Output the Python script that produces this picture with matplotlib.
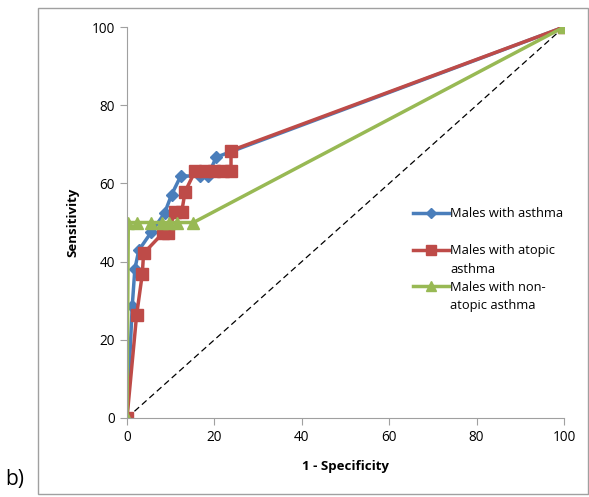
import matplotlib
matplotlib.use("Agg")
import matplotlib.pyplot as plt
from matplotlib.lines import Line2D
from matplotlib.patches import Rectangle

plt.rcParams["font.family"] = ["Open Sans", "DejaVu Sans"]

# ROC data (1 - specificity, sensitivity), in %
asthma_x = [0, 1.2, 1.8, 2.7, 5.6, 8.6, 10.2, 12.3, 16.6, 18.5, 20.4, 100]
asthma_y = [0, 28.6, 38.1, 42.9, 47.6, 52.4, 57.1, 61.9, 61.9, 61.9, 66.7, 100]

atopic_x = [0, 2.2, 3.5, 3.8, 8.3, 9.3, 11.0, 12.5, 13.3, 15.6, 17.8, 20.0, 22.0, 23.8, 23.8, 100]
atopic_y = [0, 26.3, 36.8, 42.1, 47.4, 47.4, 52.6, 52.6, 57.9, 63.2, 63.2, 63.2, 63.2, 63.2, 68.4, 100]

nonatopic_x = [0, 0.3, 2.2, 5.6, 7.9, 9.5, 11.4, 15.2, 100]
nonatopic_y = [0, 50, 50, 50, 50, 50, 50, 50, 100]

ref_x = [0, 100]
ref_y = [0, 100]

fig = plt.figure(figsize=(5.89, 4.97), dpi=100)
ax = fig.add_axes([0.2156, 0.159, 0.742, 0.7866])

ax.plot(ref_x, ref_y, color="black", linestyle=(0, (5, 3)), linewidth=0.9)
l1, = ax.plot(asthma_x, asthma_y, color="#4A7EBB", linewidth=2.5, marker="D",
              markersize=6)
l2, = ax.plot(atopic_x, atopic_y, color="#BE4B48", linewidth=2.5, marker="s",
              markersize=9)
l3, = ax.plot(nonatopic_x, nonatopic_y, color="#98B954", linewidth=2.5, marker="^",
              markersize=9)

ax.set_xlim(0, 100)
ax.set_ylim(0, 100)
ax.set_xticks(range(0, 101, 20))
ax.set_yticks(range(0, 101, 20))
for side in ["top", "right"]:
    ax.spines[side].set_visible(False)
for side in ["left", "bottom"]:
    ax.spines[side].set_color("#A0A0A0")
ax.tick_params(colors="#A0A0A0", labelcolor="black", labelsize=9.8, length=5, direction="out")
ax.set_xlabel("1 - Specificity", fontsize=9.5, fontweight="bold", labelpad=11)
ax.set_ylabel("Sensitivity", fontsize=9.5, fontweight="bold", labelpad=9)

# Excel-style legend: wrapped labels, handle on the first line
blank = Line2D([], [], linestyle="none")
handles = [l1, blank, l2, blank, l3, blank]
labels = ["Males with asthma", "", "Males with atopic", "asthma",
          "Males with non-", "atopic asthma"]
ax.legend(handles, labels, loc="upper left", bbox_to_anchor=(0.654, 0.539),
          frameon=False, fontsize=9.3, handlelength=2.8, handletextpad=0.1,
          labelspacing=0.42, borderaxespad=0, borderpad=0, markerscale=0.8)

fig.patches.append(Rectangle((38 / 589, 1 - 494 / 497), 550 / 589, 486 / 497,
                             transform=fig.transFigure, fill=False,
                             edgecolor="#A0A0A0", linewidth=1))
fig.text(5 / 589, 1 - 490 / 497, "b)", fontsize=15, ha="left", va="bottom")

fig.savefig("out.png", dpi=100)
